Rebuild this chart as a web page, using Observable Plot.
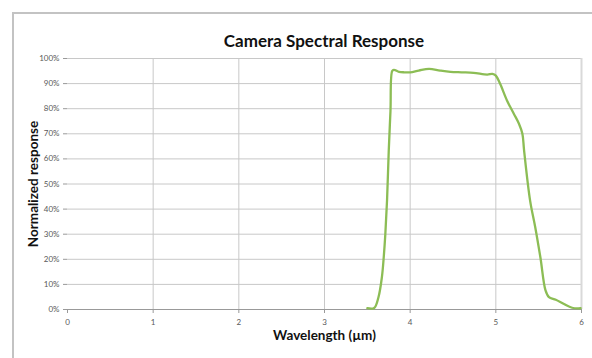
<!DOCTYPE html>
<html><head><meta charset="utf-8">
<script src="https://cdn.jsdelivr.net/npm/d3@7"></script>
<script src="https://cdn.jsdelivr.net/npm/@observablehq/plot@0.6"></script>
<style>
body{margin:0;background:#fff;font-family:Lato,"Open Sans",sans-serif;}
#wrap{position:relative;width:592px;height:358px;overflow:hidden;}
#frame{position:absolute;left:12px;top:12px;width:600px;height:400px;border-top:2px solid #c3c3c3;border-left:2px solid #c3c3c3;}
#title{position:absolute;left:67px;width:514px;top:31px;text-align:center;font-weight:bold;font-size:17px;color:#111;line-height:20px;}
#chart{position:absolute;left:0;top:0;}
</style></head>
<body>
<div id="wrap"><div id="frame"></div><div id="chart"></div><div id="title">Camera Spectral Response</div></div>
<script>
const wavelength = [3.50,3.58,3.63,3.67,3.69,3.71,3.73,3.75,3.77,3.79,3.81,3.87,3.93,4.00,4.10,4.22,4.35,4.47,4.60,4.74,4.90,4.96,5.00,5.05,5.13,5.21,5.27,5.31,5.33,5.40,5.46,5.52,5.58,5.62,5.70,5.79,5.89,5.99];
const response = [0.005,0.006,0.049,0.129,0.202,0.30,0.434,0.633,0.79,0.95,0.955,0.947,0.945,0.945,0.952,0.959,0.952,0.947,0.945,0.943,0.936,0.939,0.932,0.899,0.833,0.78,0.74,0.70,0.633,0.434,0.328,0.208,0.076,0.049,0.039,0.023,0.007,0.005];
const xTicks = [0,1,2,3,4,5,6];
const yTicks = [0,0.1,0.2,0.3,0.4,0.5,0.6,0.7,0.8,0.9,1.0];
const data = wavelength.map((w,i)=>({w, r: response[i]}));

const chart = Plot.plot({
  width: 592, height: 358,
  marginLeft: 67, marginRight: 11, marginTop: 58, marginBottom: 49,
  style: {fontFamily: "Lato, 'Open Sans', sans-serif", background: "transparent"},
  x: {domain: [0,6], ticks: xTicks, label: null},
  y: {domain: [0,1], ticks: yTicks, label: null},
  marks: [
    Plot.gridX(xTicks.slice(1), {stroke: "#c8c8c8", strokeOpacity: 1, strokeWidth: 1}),
    Plot.gridY(yTicks.slice(1), {stroke: "#c8c8c8", strokeOpacity: 1, strokeWidth: 1}),
    Plot.ruleX([6], {stroke: "#d9d9d9", strokeWidth: 2}),
    Plot.ruleY([0], {stroke: "#999", strokeWidth: 1}),
    Plot.axisY(yTicks, {tickFormat: d3.format(".0%"), tickSize: 4, tickPadding: 4, fontSize: 8, fill: "#595959", stroke: "#999", label: null}),
    Plot.axisX(xTicks, {tickSize: 4, tickPadding: 6, fontSize: 8, fill: "#595959", stroke: "#999", label: null}),
    Plot.line(data, {x: "w", y: "r", stroke: "#8cbd55", strokeWidth: 2.3, curve: "catmull-rom"}),
    Plot.text(["Normalized response"], {frameAnchor: "left", dx: -34, rotate: -90, textAnchor: "middle", lineAnchor: "middle", fontSize: 13.5, fontWeight: "bold", fill: "#111"}),
    Plot.text(["Wavelength (µm)"], {frameAnchor: "bottom", dy: 26, textAnchor: "middle", lineAnchor: "middle", fontSize: 13.5, fontWeight: "bold", fill: "#111"})
  ]
});
document.getElementById("chart").appendChild(chart);
</script>
</body></html>
